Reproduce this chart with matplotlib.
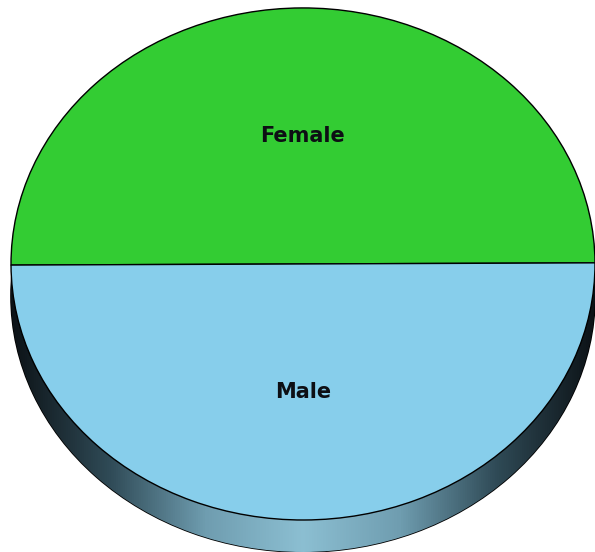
import numpy as np
import matplotlib
matplotlib.use("Agg")
import matplotlib.pyplot as plt
from matplotlib.colors import LinearSegmentedColormap

# ── Data ──────────────────────────────────────────────────────────────────────
labels = ["Female", "Male"]
shares = [50.0, 50.0]
colors = ["#33CC33", "#87CEEB"]

# ── Figure ────────────────────────────────────────────────────────────────────
fig = plt.figure(figsize=(5.95, 5.52), dpi=100)
ax = fig.add_axes([0, 0, 1, 1])

# side of the disc (3D rim), drawn as an offset pie behind the face
depth = 0.125
side, _ = ax.pie([sum(shares)], colors=["none"], center=(0, -depth),
                 wedgeprops=dict(edgecolor="black", linewidth=1.2), frame=True)
side[0].set_zorder(1)

# horizontal gradient for the rim, clipped to the offset disc
rim = LinearSegmentedColormap.from_list(
    "rim", ["#0c1216", "#2f4a56", "#6f9db0", "#8cbfd2", "#6f9db0", "#2f4a56", "#0c1216"])
grad = np.linspace(0, 1, 512).reshape(1, -1)
img = ax.imshow(grad, cmap=rim, extent=(-1, 1, -1 - depth, 1 - depth),
                aspect="auto", zorder=1.5)
img.set_clip_path(side[0])

# top face
wedges, texts = ax.pie(shares, labels=labels, colors=colors, startangle=0.25,
                       counterclock=True, labeldistance=0.5, frame=True,
                       wedgeprops=dict(edgecolor="black", linewidth=1.0),
                       textprops=dict(fontsize=15, fontweight="bold",
                                      color="#0d0f14"))
for w in wedges:
    w.set_zorder(3)
for t in texts:
    t.set_ha("center")
    t.set_zorder(4)

# squash into an ellipse and place it like the reference
ax.set_aspect("auto")
ax.set_xlim(-1.0377, 1.0)
ax.set_ylim(-1.125, 1.031)
ax.axis("off")

plt.savefig("out.png", dpi=100)
plt.close()
